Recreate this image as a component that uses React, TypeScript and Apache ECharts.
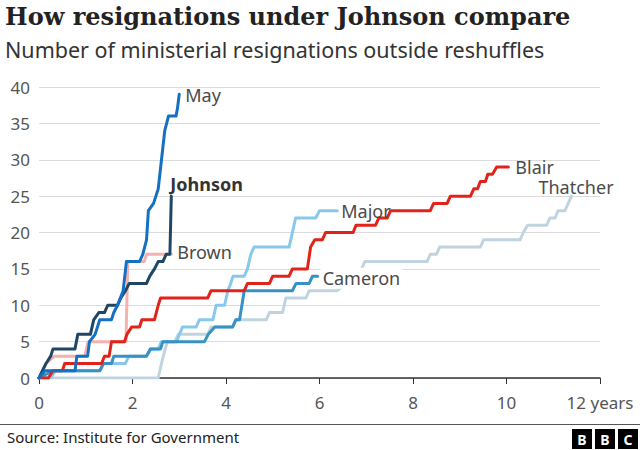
import React, { useEffect, useRef } from "react";
import * as echarts from "echarts";

// [years in office, cumulative resignations]
const THATCHER: [number, number][] = [
  [0, 0], [2.55, 0], [2.62, 2], [2.7, 4], [2.75, 5], [2.9, 5], [2.98, 6], [3.61, 6], [3.68, 7],
  [4.14, 7], [4.21, 8], [4.86, 8], [4.93, 9], [5.21, 9], [5.28, 11], [5.71, 11], [5.78, 12],
  [6.38, 12], [6.9, 15], [6.97, 16], [8.3, 16], [8.37, 17], [8.5, 17], [8.57, 18], [9.44, 18],
  [9.51, 19], [10.29, 19], [10.36, 20], [10.45, 21], [10.86, 21], [10.93, 22], [11.04, 22],
  [11.1, 23], [11.25, 23], [11.32, 24], [11.39, 25],
];
const MAJOR: [number, number][] = [
  [0, 0], [0.25, 0], [0.35, 1], [1.3, 1], [1.38, 2], [1.85, 2], [1.92, 3], [2.3, 3], [2.4, 4],
  [2.55, 4], [2.62, 5], [2.95, 5], [3.0, 6], [3.07, 7], [3.36, 7], [3.43, 8], [3.72, 8],
  [3.79, 10], [3.97, 10], [4.04, 12], [4.1, 13], [4.15, 14], [4.39, 14], [4.46, 15], [4.53, 17],
  [4.6, 18], [5.35, 18], [5.42, 20], [5.49, 22], [5.92, 22], [6.0, 23], [6.38, 23],
];
const CAMERON: [number, number][] = [
  [0, 0], [0.3, 1], [1.3, 1], [1.38, 2], [1.55, 2], [1.6, 3], [2.3, 3], [2.38, 4], [2.6, 4],
  [2.65, 5], [3.54, 5], [3.62, 6], [3.76, 7], [4.14, 7], [4.21, 8], [4.29, 8], [4.39, 12],
  [5.42, 12], [5.5, 13], [5.78, 13], [5.85, 14], [5.96, 14],
];
const BROWN: [number, number][] = [
  [0, 0], [0.15, 2], [0.33, 3], [0.98, 3], [1.05, 5], [1.86, 5], [1.9, 16], [2.25, 16],
  [2.3, 17], [2.83, 17],
];
const BLAIR: [number, number][] = [
  [0, 0], [0.2, 0], [0.3, 1], [0.5, 1], [0.55, 2], [1.34, 2], [1.4, 3], [1.5, 3], [1.55, 5],
  [1.83, 5], [1.88, 6], [1.98, 7], [2.15, 7], [2.2, 8], [2.47, 8], [2.55, 10], [2.6, 11],
  [3.61, 11], [3.68, 12], [4.39, 12], [4.46, 13], [4.93, 13], [5.0, 14], [5.35, 14], [5.42, 15],
  [5.74, 15], [5.81, 18], [5.9, 19], [6.06, 19], [6.13, 20], [6.72, 20], [6.78, 21], [7.2, 21],
  [7.27, 22], [7.45, 22], [7.52, 23], [8.37, 23], [8.44, 24], [8.73, 24], [8.8, 25], [9.23, 25],
  [9.3, 26], [9.38, 26], [9.44, 27], [9.55, 27], [9.6, 28], [9.7, 28], [9.79, 29], [10.04, 29],
];
const JOHNSON: [number, number][] = [
  [0, 0], [0.15, 2], [0.25, 3], [0.3, 4], [0.77, 4], [0.83, 6], [1.1, 6], [1.17, 8], [1.28, 9],
  [1.4, 9], [1.47, 10], [1.68, 10], [1.75, 11], [1.85, 12], [1.93, 13], [2.3, 13], [2.37, 14],
  [2.47, 15], [2.55, 16], [2.65, 16], [2.72, 17], [2.8, 17], [2.83, 25],
];
const MAY: [number, number][] = [
  [0, 0], [0.13, 1], [0.77, 1], [0.81, 3], [1.04, 3], [1.08, 5], [1.2, 6], [1.3, 8], [1.55, 8],
  [1.6, 9], [1.68, 10], [1.74, 11], [1.8, 12], [1.87, 16], [2.15, 16], [2.22, 17], [2.3, 19],
  [2.34, 23], [2.45, 24], [2.55, 26], [2.62, 30], [2.69, 34], [2.77, 36], [2.93, 36],
  [2.96, 37], [3.0, 39],
];

const X_TICKS = [0, 2, 4, 6, 8, 10, 12];
const Y_TICKS = [0, 5, 10, 15, 20, 25, 30, 35, 40];

const FONT = "'Noto Sans', sans-serif";
const LABEL_COLOR = "#4a4a4a";

type Spec = {
  name: string;
  data: [number, number][];
  color: string;
  offset: [number, number];
  bold?: boolean;
  bg?: boolean;
};

const SPECS: Spec[] = [
  { name: "Thatcher", data: THATCHER, color: "#c0d4e0", offset: [-41, -9] },
  { name: "Major", data: MAJOR, color: "#88c8ec", offset: [-4, 0] },
  { name: "Cameron", data: CAMERON, color: "#3791c4", offset: [-5, 2], bg: true },
  { name: "Brown", data: BROWN, color: "#f5b1b0", offset: [-2, -2] },
  { name: "Blair", data: BLAIR, color: "#e2231a", offset: [-1, 0] },
  { name: "Johnson", data: JOHNSON, color: "#1f4765", offset: [-9, -12], bold: true },
  { name: "May", data: MAY, color: "#1370c3", offset: [-2, 1] },
];

export default function App() {
  const ref = useRef<HTMLDivElement>(null);
  useEffect(() => {
    if (!ref.current) return;
    const chart = echarts.init(ref.current, null, { renderer: "svg" });
    const option: any = {
      animation: false,
      backgroundColor: "#ffffff",
      grid: { left: 39, right: 40, top: 87, bottom: 72, containLabel: false },
      xAxis: {
        type: "value",
        min: X_TICKS[0],
        max: X_TICKS[X_TICKS.length - 1],
        interval: 2,
        axisLine: { show: true, lineStyle: { color: "#333", width: 1.5 } },
        axisTick: { show: true, length: 6, lineStyle: { color: "#333", width: 1 } },
        splitLine: { show: false },
        axisLabel: {
          color: "#555",
          fontSize: 17,
          fontFamily: FONT,
          margin: 16,
          formatter: (v: number) => (v === 12 ? "12 years" : String(v)),
        },
      },
      yAxis: {
        type: "value",
        min: Y_TICKS[0],
        max: Y_TICKS[Y_TICKS.length - 1],
        interval: 5,
        axisLine: { show: false },
        axisTick: { show: false },
        splitLine: { show: true, lineStyle: { color: "#dcdcdc", width: 1 } },
        axisLabel: { color: "#555", fontSize: 17, fontFamily: FONT, margin: 9 },
      },
      series: SPECS.map((s) => ({
        name: s.name,
        type: "line",
        data: s.data,
        showSymbol: false,
        symbol: "none",
        lineStyle: { color: s.color, width: 3, join: "round", cap: "round" },
        itemStyle: { color: s.color },
        emphasis: { disabled: true },
        endLabel: {
          show: true,
          formatter: () => s.name,
          color: s.bold ? "#333" : LABEL_COLOR,
          fontWeight: s.bold ? "bold" : "normal",
          fontSize: 18,
          lineHeight: 15,
          fontFamily: FONT,
          offset: s.offset,
          backgroundColor: s.bg ? "#ffffff" : "transparent",
          padding: s.bg ? [3, 2] : 0,
        },
      })),
      graphic: [
        {
          type: "text",
          left: 5,
          top: 4,
          style: {
            text: "How resignations under Johnson compare",
            fill: "#222",
            fontSize: 24,
            fontFamily: "'DejaVu Serif', serif",
            fontWeight: "bold",
          },
        },
        {
          type: "text",
          left: 5,
          top: 38,
          style: {
            text: "Number of ministerial resignations outside reshuffles",
            fill: "#333",
            fontSize: 21.5,
            fontFamily: FONT,
          },
        },
        {
          type: "line",
          shape: { x1: 0, y1: 424.5, x2: 640, y2: 424.5 },
          style: { stroke: "#555", lineWidth: 1 },
        },
        {
          type: "text",
          left: 7,
          top: 429,
          style: {
            text: "Source: Institute for Government",
            fill: "#222",
            fontSize: 15,
            fontFamily: FONT,
          },
        },
        ...["B", "B", "C"].flatMap((ch, i) => [
          {
            type: "rect",
            shape: { x: 572 + i * 23, y: 429, width: 20, height: 20 },
            style: { fill: "#000" },
          },
          {
            type: "text",
            x: 582 + i * 23,
            y: 439,
            style: {
              text: ch,
              fill: "#fff",
              fontSize: 14,
              fontWeight: "bold",
              fontFamily: FONT,
              align: "center",
              verticalAlign: "middle",
            },
          },
        ]),
      ],
    };
    chart.setOption(option);
    return () => chart.dispose();
  }, []);
  return (
    <div
      ref={ref}
      style={{ position: "fixed", left: 0, top: 0, width: 640, height: 450, background: "#fff" }}
    />
  );
}
